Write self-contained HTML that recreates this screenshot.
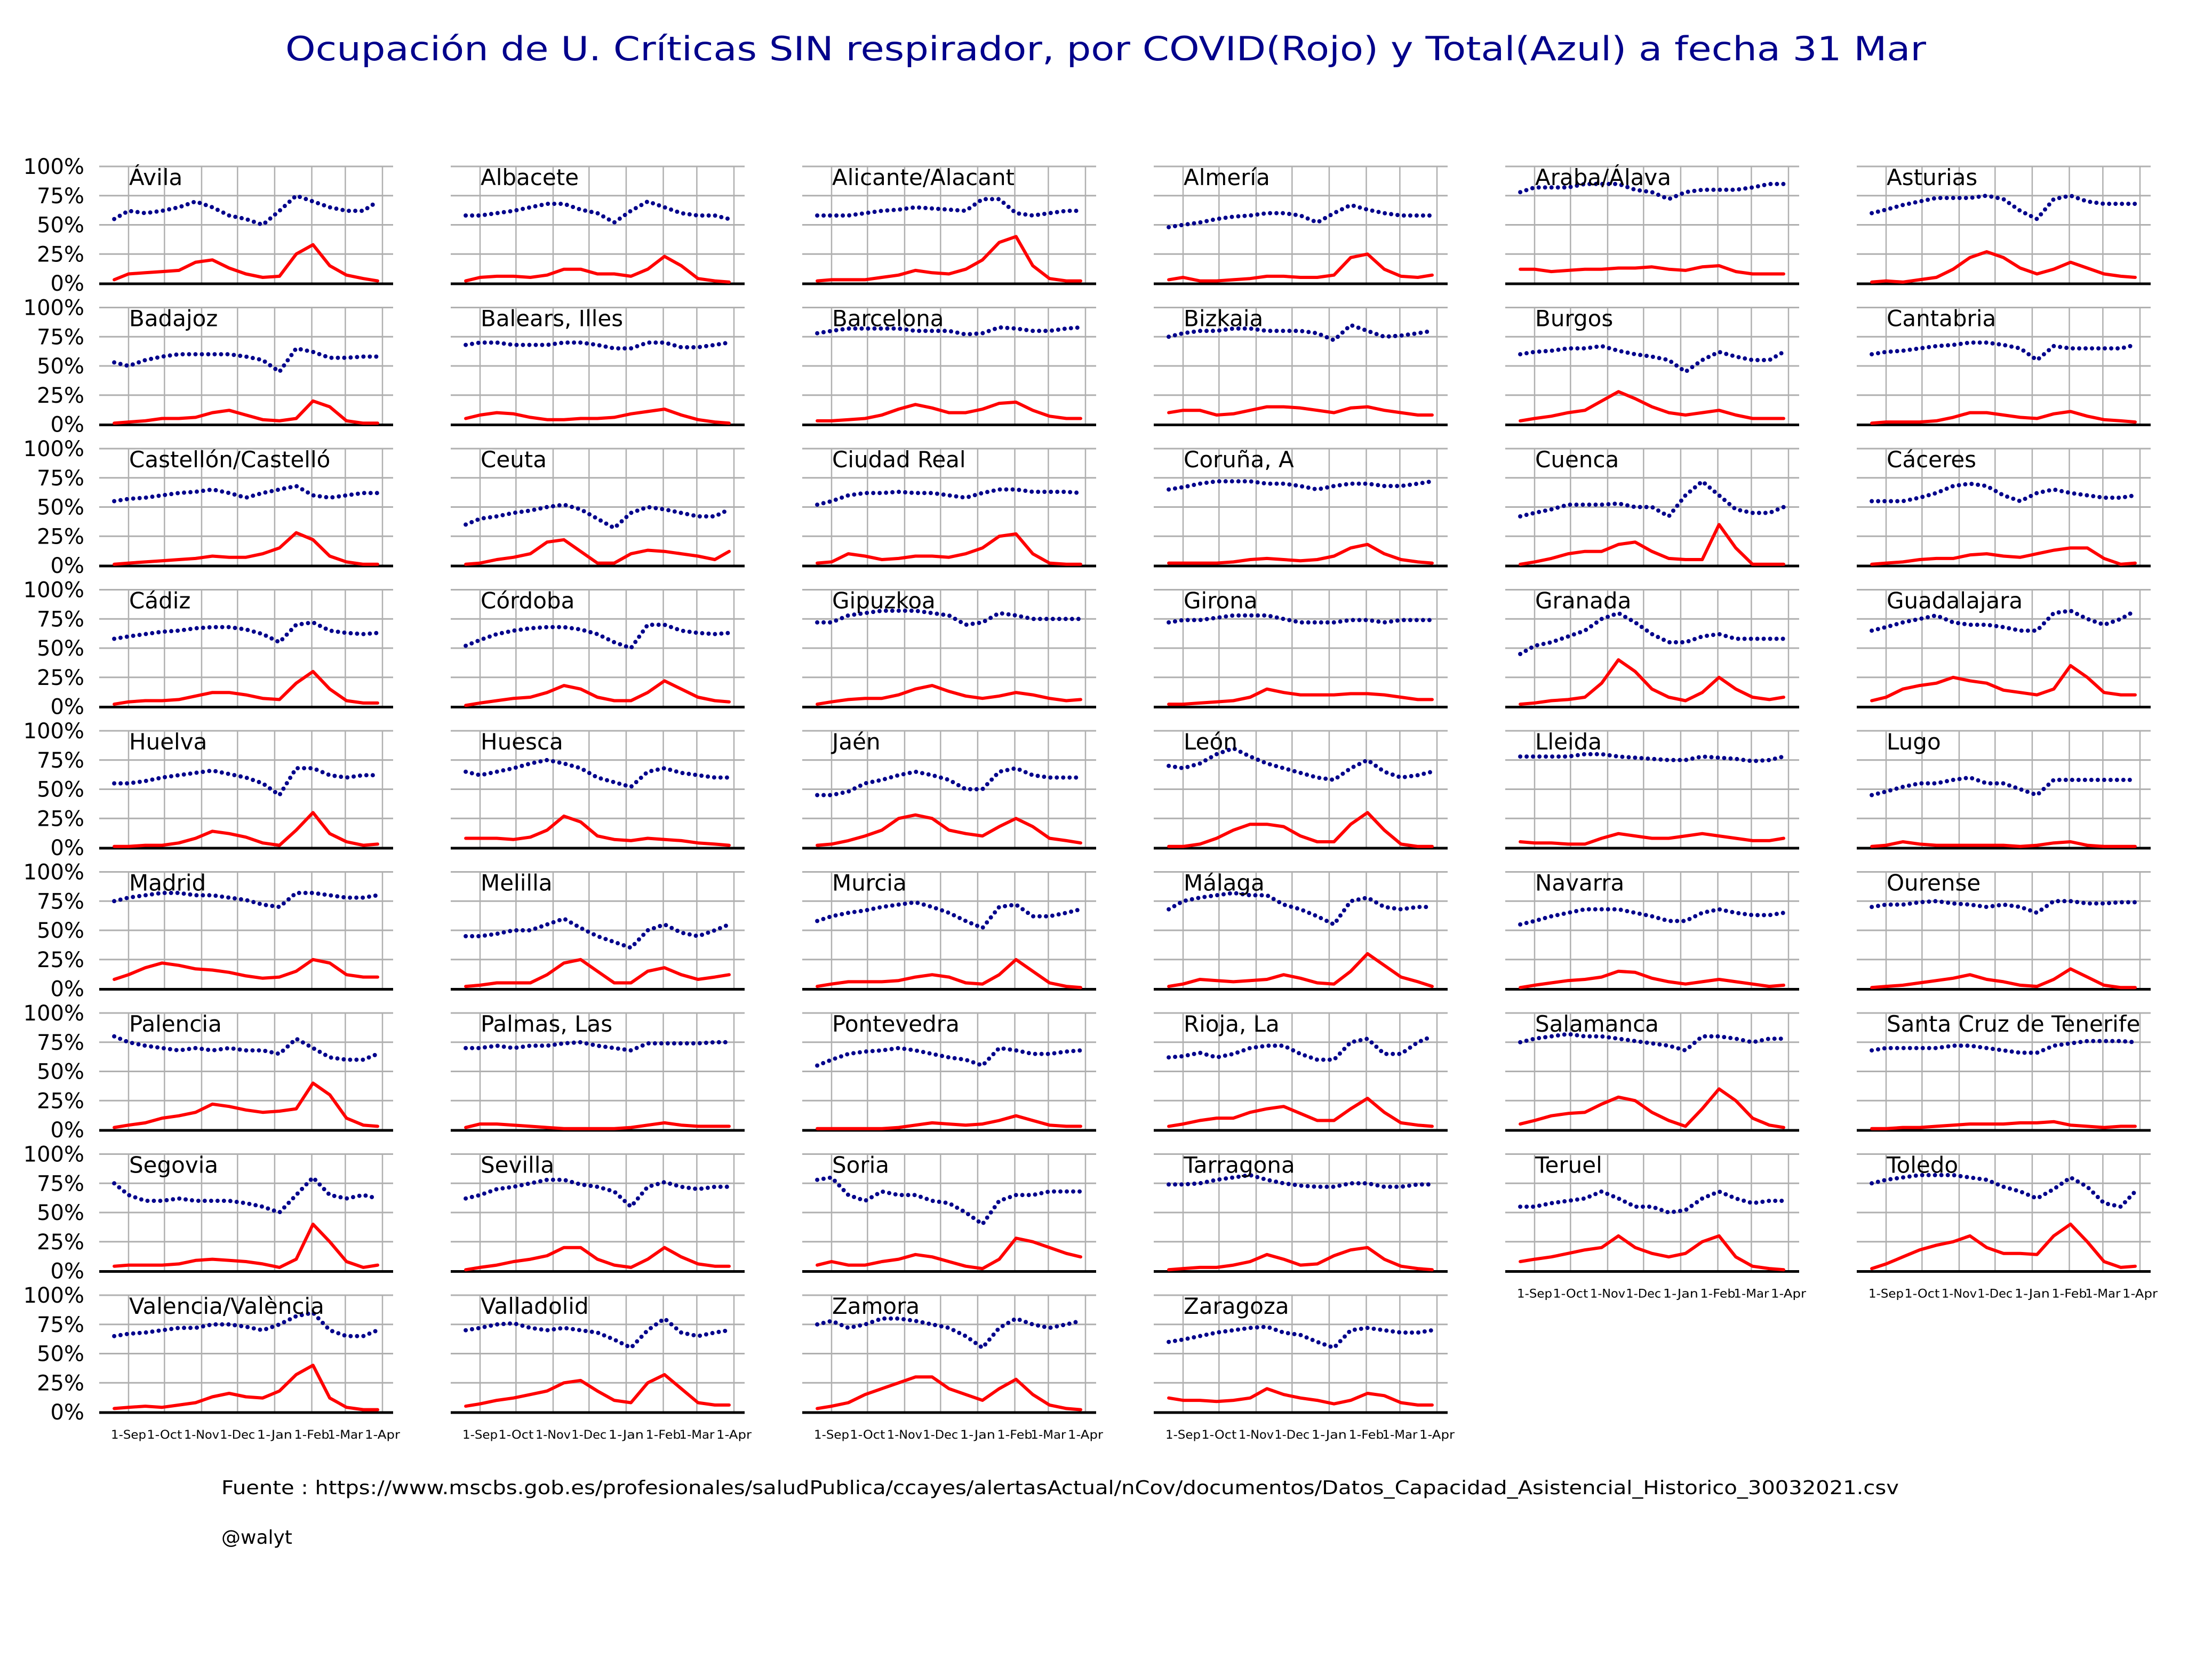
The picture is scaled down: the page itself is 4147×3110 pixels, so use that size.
<!DOCTYPE html>
<html><head><meta charset="utf-8"><style>
html,body{margin:0;padding:0;background:#fff}
svg{display:block}
text{font-family:"DejaVu Sans","Liberation Sans",sans-serif}
</style></head>
<body>
<svg id="chart" xmlns="http://www.w3.org/2000/svg" width="4147" height="3110" viewBox="0 0 4147 3110">
<rect x="0" y="0" width="4147" height="3110" fill="#fff"/>
<text x="2073" y="113" text-anchor="middle" font-size="62" fill="#00008b" textLength="3076" lengthAdjust="spacingAndGlyphs">Ocupación de U. Críticas SIN respirador, por COVID(Rojo) y Total(Azul) a fecha 31 Mar</text>
<g id="panels"></g>
<text x="415" y="2801" font-size="36" fill="#000" textLength="3145" lengthAdjust="spacingAndGlyphs">Fuente : https://www.mscbs.gob.es/profesionales/saludPublica/ccayes/alertasActual/nCov/documentos/Datos_Capacidad_Asistencial_Historico_30032021.csv</text>
<text x="415" y="2894" font-size="36" fill="#000">@walyt</text>
</svg>
<script>
const provinces = ["Ávila","Albacete","Alicante/Alacant","Almería","Araba/Álava","Asturias","Badajoz","Balears, Illes","Barcelona","Bizkaia","Burgos","Cantabria","Castellón/Castelló","Ceuta","Ciudad Real","Coruña, A","Cuenca","Cáceres","Cádiz","Córdoba","Gipuzkoa","Girona","Granada","Guadalajara","Huelva","Huesca","Jaén","León","Lleida","Lugo","Madrid","Melilla","Murcia","Málaga","Navarra","Ourense","Palencia","Palmas, Las","Pontevedra","Rioja, La","Salamanca","Santa Cruz de Tenerife","Segovia","Sevilla","Soria","Tarragona","Teruel","Toledo","Valencia/València","Valladolid","Zamora","Zaragoza"];
const days = [-12,0,14,28,42,56,70,84,98,112,126,140,154,168,182,196,208];
const tickDays = [0,30,61,91,122,153,181,212];
const tickLabels = ["1-Sep","1-Oct","1-Nov","1-Dec","1-Jan","1-Feb","1-Mar","1-Apr"];
const yTicks = [0,25,50,75,100];
const yTickLabels = ["0%","25%","50%","75%","100%"];
const covidPct = [
[3,8,9,10,11,18,20,13,8,5,6,25,33,15,7,4,2],
[2,5,6,6,5,7,12,12,8,8,6,12,23,15,4,2,1],
[2,3,3,3,5,7,11,9,8,12,20,35,40,15,4,2,2],
[3,5,2,2,3,4,6,6,5,5,7,22,25,12,6,5,7],
[12,12,10,11,12,12,13,13,14,12,11,14,15,10,8,8,8],
[1,2,1,3,5,12,22,27,22,13,8,12,18,13,8,6,5],
[1,2,3,5,5,6,10,12,8,4,3,5,20,15,3,1,1],
[5,8,10,9,6,4,4,5,5,6,9,11,13,8,4,2,1],
[3,3,4,5,8,13,17,14,10,10,13,18,19,12,7,5,5],
[10,12,12,8,9,12,15,15,14,12,10,14,15,12,10,8,8],
[3,5,7,10,12,20,28,22,15,10,8,10,12,8,5,5,5],
[1,2,2,2,3,6,10,10,8,6,5,9,11,7,4,3,2],
[1,2,3,4,5,6,8,7,7,10,15,28,22,8,3,1,1],
[1,2,5,7,10,20,22,12,2,2,10,13,12,10,8,5,12],
[2,3,10,8,5,6,8,8,7,10,15,25,27,10,2,1,1],
[2,2,2,2,3,5,6,5,4,5,8,15,18,10,5,3,2],
[1,3,6,10,12,12,18,20,12,6,5,5,35,15,1,1,1],
[1,2,3,5,6,6,9,10,8,7,10,13,15,15,6,1,2],
[2,4,5,5,6,9,12,12,10,7,6,20,30,15,5,3,3],
[1,3,5,7,8,12,18,15,8,5,5,12,22,15,8,5,4],
[2,4,6,7,7,10,15,18,13,9,7,9,12,10,7,5,6],
[2,2,3,4,5,8,15,12,10,10,10,11,11,10,8,6,6],
[2,3,5,6,8,20,40,30,15,8,5,12,25,15,8,6,8],
[5,8,15,18,20,25,22,20,14,12,10,15,35,25,12,10,10],
[1,1,2,2,4,8,14,12,9,4,2,15,30,12,5,2,3],
[8,8,8,7,9,15,27,22,10,7,6,8,7,6,4,3,2],
[2,3,6,10,15,25,28,25,15,12,10,18,25,18,8,6,4],
[1,1,3,8,15,20,20,18,10,5,5,20,30,15,3,1,1],
[5,4,4,3,3,8,12,10,8,8,10,12,10,8,6,6,8],
[1,2,5,3,2,2,2,2,2,1,2,4,5,2,1,1,1],
[8,12,18,22,20,17,16,14,11,9,10,15,25,22,12,10,10],
[2,3,5,5,5,12,22,25,15,5,5,15,18,12,8,10,12],
[2,4,6,6,6,7,10,12,10,5,4,12,25,15,5,2,1],
[2,4,8,7,6,7,8,12,9,5,4,15,30,20,10,6,2],
[1,3,5,7,8,10,15,14,9,6,4,6,8,6,4,2,3],
[1,2,3,5,7,9,12,8,6,3,2,8,17,10,3,1,1],
[2,4,6,10,12,15,22,20,17,15,16,18,40,30,10,4,3],
[2,5,5,4,3,2,1,1,1,1,2,4,6,4,3,3,3],
[1,1,1,1,1,2,4,6,5,4,5,8,12,8,4,3,3],
[3,5,8,10,10,15,18,20,14,8,8,18,27,15,6,4,3],
[5,8,12,14,15,22,28,25,15,8,3,18,35,25,10,4,2],
[1,1,2,2,3,4,5,5,5,6,6,7,4,3,2,3,3],
[4,5,5,5,6,9,10,9,8,6,3,10,40,25,8,3,5],
[1,3,5,8,10,13,20,20,10,5,3,10,20,12,6,4,4],
[5,8,5,5,8,10,14,12,8,4,2,10,28,25,20,15,12],
[1,2,3,3,5,8,14,10,5,6,13,18,20,10,4,2,1],
[8,10,12,15,18,20,30,20,15,12,15,25,30,12,4,2,1],
[2,6,12,18,22,25,30,20,15,15,14,30,40,25,8,3,4],
[3,4,5,4,6,8,13,16,13,12,18,32,40,12,4,2,2],
[5,7,10,12,15,18,25,27,18,10,8,25,32,20,8,6,6],
[3,5,8,15,20,25,30,30,20,15,10,20,28,15,6,3,2],
[12,10,10,9,10,12,20,15,12,10,7,10,16,14,8,6,6]
];
const totalPct = [
[55,62,60,62,65,70,65,58,55,50,62,75,70,65,62,62,70],
[58,58,60,62,65,68,68,63,60,52,62,70,65,60,58,58,55],
[58,58,58,60,62,63,65,64,63,62,72,72,60,58,60,62,62],
[48,50,52,55,57,58,60,60,58,52,60,67,63,60,58,58,58],
[78,82,82,82,85,85,85,80,78,72,78,80,80,80,82,85,85],
[60,63,67,70,73,73,73,75,72,62,55,72,75,70,68,68,68],
[53,50,55,58,60,60,60,60,58,55,45,65,62,57,57,58,58],
[68,70,70,68,68,68,70,70,68,65,65,70,70,66,66,68,70],
[78,80,82,82,82,82,80,80,80,77,78,83,82,80,80,82,83],
[75,78,80,80,82,82,80,80,80,78,72,85,80,75,76,78,80],
[60,62,63,65,65,67,63,60,58,55,45,55,62,58,55,55,62],
[60,62,63,65,67,68,70,70,68,65,55,67,65,65,65,65,68],
[55,57,58,60,62,63,65,62,58,62,65,68,60,58,60,62,62],
[35,40,42,45,47,50,52,48,40,32,45,50,48,45,42,42,48],
[52,55,60,62,62,63,62,62,60,58,62,65,65,63,63,63,62],
[65,67,70,72,72,72,70,70,68,65,68,70,70,68,68,70,72],
[42,45,48,52,52,52,53,50,50,42,60,72,60,48,45,45,50],
[55,55,55,58,62,68,70,68,60,55,62,65,62,60,58,58,60],
[58,60,62,64,65,67,68,68,66,62,55,70,72,65,63,62,63],
[52,57,62,65,67,68,68,66,62,55,50,70,70,65,63,62,63],
[72,72,78,80,82,82,82,80,78,70,72,80,78,75,75,75,75],
[72,74,74,76,78,78,78,75,72,72,72,74,74,72,74,74,74],
[45,52,55,60,65,75,80,72,62,55,55,60,62,58,58,58,58],
[65,68,72,75,78,72,70,70,68,65,65,80,82,75,70,75,82],
[55,55,57,60,62,64,66,63,60,55,45,68,68,62,60,62,62],
[65,62,65,68,72,75,72,68,60,56,52,65,68,64,62,60,60],
[45,45,48,55,58,62,65,62,58,50,50,65,68,62,60,60,60],
[70,68,72,80,85,78,72,68,64,60,58,68,75,65,60,62,65],
[78,78,78,78,80,80,78,77,76,75,75,78,77,76,74,75,78],
[45,48,52,55,55,58,60,55,55,50,45,58,58,58,58,58,58],
[75,78,80,82,82,80,80,78,76,72,70,82,82,80,78,78,80],
[45,45,47,50,50,55,60,52,45,40,35,50,55,48,45,50,55],
[58,62,65,67,70,72,74,70,65,58,52,70,72,62,62,65,68],
[68,75,78,80,82,80,80,72,68,62,55,75,78,70,68,70,70],
[55,58,62,65,68,68,68,65,62,58,58,65,68,65,63,63,65],
[70,72,72,74,75,73,72,70,72,70,65,75,75,73,73,74,74],
[80,75,72,70,68,70,68,70,68,68,65,78,70,62,60,60,65],
[70,70,72,70,72,72,74,75,72,70,68,74,74,74,74,75,75],
[55,60,65,67,68,70,68,65,62,60,55,70,68,65,65,67,68],
[62,63,66,62,65,70,72,72,65,60,60,75,78,65,65,75,80],
[75,78,80,82,80,80,78,76,74,72,68,80,80,78,75,78,78],
[68,70,70,70,70,72,72,70,68,66,66,72,74,76,76,76,75],
[75,65,60,60,62,60,60,60,58,55,50,65,80,65,62,65,62],
[62,65,70,72,75,78,78,74,72,68,55,72,76,72,70,72,72],
[78,80,65,60,68,65,65,60,58,50,40,60,65,65,68,68,68],
[74,74,75,78,80,82,78,75,73,72,72,75,75,72,72,74,74],
[55,55,58,60,62,68,62,55,55,50,52,62,68,62,58,60,60],
[75,78,80,82,82,82,80,78,72,68,62,70,80,72,58,55,68],
[65,67,68,70,72,72,75,75,73,70,75,82,85,70,65,65,70],
[70,72,75,76,72,70,72,70,68,62,55,70,80,68,65,68,70],
[75,78,72,75,80,80,78,75,72,65,55,72,80,75,72,75,78],
[60,62,65,68,70,72,73,68,66,60,55,70,72,70,68,68,70]
];

const NS = "http://www.w3.org/2000/svg";
const root = document.getElementById("panels");
const COLW = 659, ROWH = 264.5, AX0 = 186, AXW = 551, Y0 = 312, YH = 219;
const X1SEP = 241, PXDAY = 476 / 212;
function mk(tag, attrs, parent) {
  const e = document.createElementNS(NS, tag);
  for (const k in attrs) e.setAttribute(k, attrs[k]);
  parent.appendChild(e);
  return e;
}
function xScale(col, d) { return X1SEP + col * COLW + d * PXDAY; }
function yScale(row, v) { return Y0 + row * ROWH + (100 - v) * YH / 100; }

provinces.forEach((name, i) => {
  const col = i % 6, row = Math.floor(i / 6);
  const slug = name.toLowerCase().normalize("NFD").replace(/[\u0300-\u036f]/g, "").replace(/[^a-z]+/g, "-").replace(/^-|-$/g, "");
  const g = mk("g", {}, root);
  
  
  const left = AX0 + col * COLW, right = left + AXW;
  yTicks.forEach((t, k) => {
    if (t === 0) return;
    const y = yScale(row, t);
    const l = mk("line", {x1: left, x2: right, y1: y, y2: y, stroke: "#b0b0b0", "stroke-width": 3}, g);
    
    
  });
  tickDays.forEach(d => {
    const x = xScale(col, d);
    const l = mk("line", {x1: x, x2: x, y1: yScale(row, 100), y2: yScale(row, 0), stroke: "#b0b0b0", "stroke-width": 2.5}, g);
    
    
  });
  const sp = mk("line", {x1: left, x2: right, y1: yScale(row, 0) + 1, y2: yScale(row, 0) + 1, stroke: "#000", "stroke-width": 5}, g);
  
  
  if (col === 0) {
    yTicks.forEach((t, k) => {
      const tx = mk("text", {x: 158, y: yScale(row, t) + 14, "text-anchor": "end", "font-size": 40, fill: "#000"}, g);
      
      
      tx.textContent = yTickLabels[k];
    });
  }
  const lastRow = (col < 4) ? 8 : 7;
  if (row === lastRow) {
    tickDays.forEach((d, k) => {
      const tx = mk("text", {x: xScale(col, d), y: yScale(row, 0) + 50, "text-anchor": "middle", "font-size": 22, fill: "#000", textLength: 66, lengthAdjust: "spacingAndGlyphs"}, g);
      
      
      tx.textContent = tickLabels[k];
    });
  }
  const bp = totalPct[i].map((v, k) => xScale(col, days[k]).toFixed(1) + "," + yScale(row, v).toFixed(1)).join(" ");
  const bl = mk("polyline", {points: bp, fill: "none", stroke: "#00008b", "stroke-width": 8, "stroke-linecap": "round", "stroke-dasharray": "0 12"}, g);
  
  
  const rp = covidPct[i].map((v, k) => xScale(col, days[k]).toFixed(1) + "," + yScale(row, v).toFixed(1)).join(" ");
  const rl = mk("polyline", {points: rp, fill: "none", stroke: "#ff0000", "stroke-width": 6, "stroke-linejoin": "round", "stroke-linecap": "round"}, g);
  
  
  const tt = mk("text", {x: xScale(col, 0) + 1, y: yScale(row, 100) + 35, "font-size": 42, fill: "#000"}, g);
  
  
  tt.textContent = name;
});
</script>
</body></html>
